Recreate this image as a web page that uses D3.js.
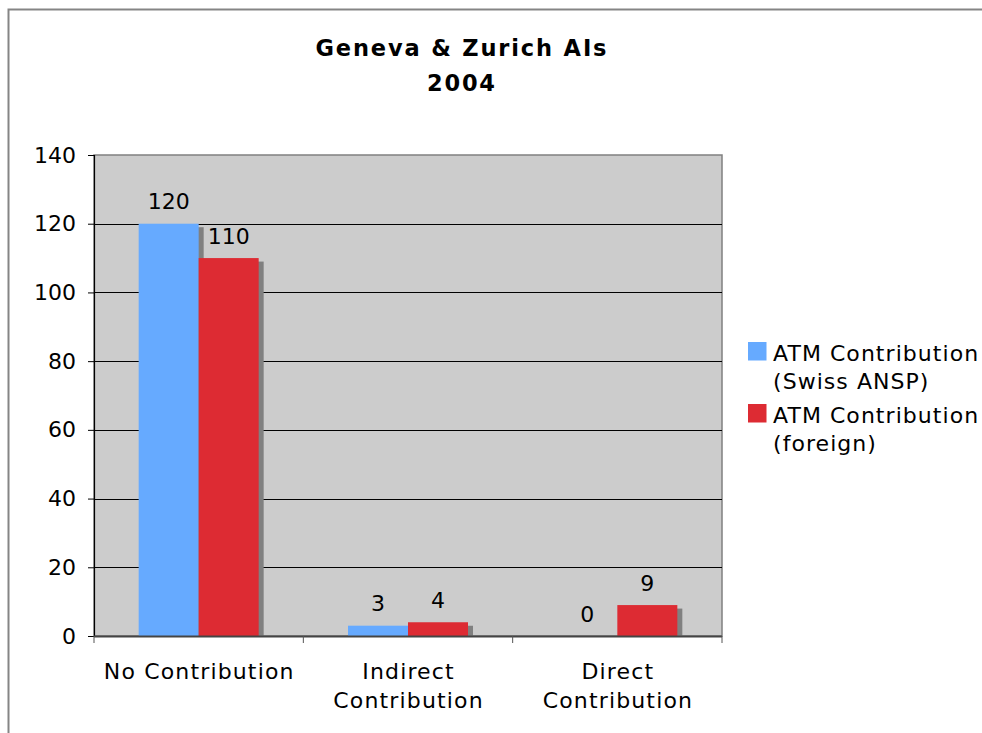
<!DOCTYPE html>
<html><head><meta charset="utf-8">
<script src="https://cdn.jsdelivr.net/npm/d3@7"></script>
<style>body{margin:0;background:#fff}svg{display:block}</style>
</head><body>
<svg id="c" width="982" height="733"></svg>
<script>
const categories = [["No Contribution"], ["Indirect", "Contribution"], ["Direct", "Contribution"]];
const seriesNames = [["ATM Contribution", "(Swiss ANSP)"], ["ATM Contribution", "(foreign)"]];
const swiss = [120, 3, 0];
const foreign = [110, 4, 9];
const yTicks = [0, 20, 40, 60, 80, 100, 120, 140];
const colors = ["#66aaff", "#dd2b33"];
const titleLines = ["Geneva & Zurich AIs", "2004"];

const svg = d3.select("#c");
const font = "'DejaVu Sans', Verdana, sans-serif";
const FS = 22, LS = 1.15;
const L = 94, R = 722, T = 155, B = 636;

// outer frame
svg.append("path").attr("d", "M8.5,733 L8.5,9.5 L982,9.5").attr("fill", "none").attr("stroke", "#858585").attr("stroke-width", 2);

// title
const titleW = [291, 68];
svg.selectAll("text.title").data(titleLines).join("text")
  .attr("x", 461).attr("y", (d, i) => 56 + i * 34.5)
  .attr("text-anchor", "middle").attr("font-family", font)
  .attr("font-weight", "bold").attr("font-size", 22.5)
  .attr("textLength", (d, i) => titleW[i]).attr("lengthAdjust", "spacing")
  .text(d => d);

const x0 = d3.scaleBand().domain(d3.range(categories.length)).range([L, R]);
const y = d3.scaleLinear().domain([0, 140]).range([B, T]);
const barW = 60;
const x1 = d3.scaleBand().domain([0, 1]).range([0, barW * 2]);

// plot area
svg.append("rect").attr("x", L).attr("y", T).attr("width", R - L).attr("height", B - T)
  .attr("fill", "#cccccc").attr("stroke", "#808080").attr("stroke-width", 1.5);

// gridlines
svg.selectAll("line.grid").data(yTicks.filter(t => t > 0 && t < 140)).join("line")
  .attr("x1", L).attr("x2", R).attr("y1", d => Math.round(y(d)) + 0.5).attr("y2", d => Math.round(y(d)) + 0.5)
  .attr("stroke", "#000").attr("stroke-width", 1);

const data = categories.map((c, i) => [swiss[i], foreign[i]]);
const groups = svg.selectAll("g.grp").data(data).join("g")
  .attr("transform", (d, i) => `translate(${x0(i) + x0.bandwidth() / 2 - barW},0)`);

// shadows
groups.selectAll("rect.sh").data(d => d).join("rect")
  .attr("x", (d, j) => x1(j) + 5).attr("y", d => Math.min(y(d) + 3.5, B))
  .attr("width", barW).attr("height", d => Math.max(0, B - y(d) - 3.5))
  .attr("fill", "#808080");
// bars
groups.selectAll("rect.bar").data(d => d).join("rect")
  .attr("x", (d, j) => x1(j)).attr("y", d => y(d))
  .attr("width", barW).attr("height", d => B - y(d))
  .attr("fill", (d, j) => colors[j]);
// value labels
groups.selectAll("text.v").data(d => d).join("text")
  .attr("x", (d, j) => x1(j) + barW / 2).attr("y", d => y(d) - 14.5)
  .attr("text-anchor", "middle").attr("font-family", font).attr("font-size", FS)
  .attr("fill", "#000").text(d => d);

// axes
const yAxis = d3.axisLeft(y).tickValues(yTicks).tickSize(6).tickPadding(12);
const gy = svg.append("g").attr("transform", `translate(${L},0)`).call(yAxis);
gy.select(".domain").attr("stroke", "#000").attr("stroke-width", 1.2);
gy.selectAll(".tick line").attr("stroke", "#000");
gy.selectAll("text").attr("font-family", font).attr("font-size", FS).attr("fill", "#000");

const xA = d3.scaleLinear().domain([0, 3]).range([L, R]);
svg.append("line").attr("x1", L).attr("x2", R).attr("y1", B + 0.5).attr("y2", B + 0.5).attr("stroke", "#444").attr("stroke-width", 2);
svg.selectAll("line.xt").data([0, 1, 2, 3]).join("line")
  .attr("x1", d => xA(d)).attr("x2", d => xA(d)).attr("y1", B).attr("y2", B + 7).attr("stroke", "#555");

svg.selectAll("g.xl").data(categories).join("g").each(function (lines, i) {
  d3.select(this).selectAll("text").data(lines).join("text")
    .attr("x", x0(i) + x0.bandwidth() / 2 + LS / 2).attr("y", (d, k) => 679 + k * 29)
    .attr("text-anchor", "middle").attr("font-family", font).attr("font-size", FS)
    .attr("letter-spacing", LS).attr("fill", "#000").text(d => d);
});

// legend
const lg = svg.selectAll("g.lg").data(seriesNames).join("g")
  .attr("transform", (d, i) => `translate(748,${342 + i * 62})`);
lg.append("rect").attr("width", 18.5).attr("height", 18.5).attr("fill", (d, i) => colors[i]);
lg.each(function (lines) {
  d3.select(this).selectAll("text").data(lines).join("text")
    .attr("x", 25).attr("y", (d, k) => 19 + k * 28)
    .attr("font-family", font).attr("font-size", FS).attr("letter-spacing", 1.05)
    .attr("fill", "#000").text(d => d);
});
</script>
</body></html>
